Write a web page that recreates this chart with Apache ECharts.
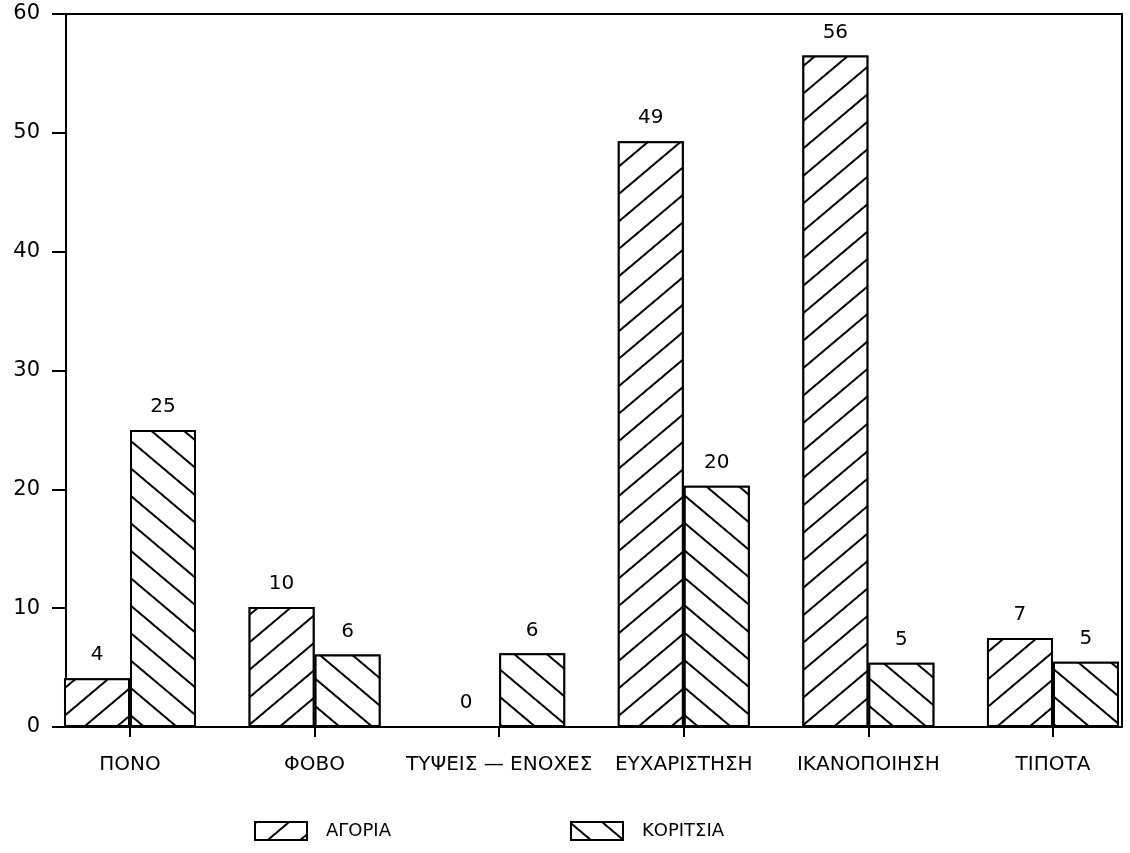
<!DOCTYPE html>
<html>
<head>
<meta charset="utf-8">
<script src="https://cdn.jsdelivr.net/npm/echarts@6/dist/echarts.min.js"></script>
<style>html,body{margin:0;padding:0;background:#fff;}#c{width:1130px;height:853px;}</style>
</head>
<body>
<div id="c"></div>
<script>
const categories = ['ΠΟΝΟ', 'ΦΟΒΟ', 'ΤΥΨΕΙΣ — ΕΝΟΧΕΣ', 'ΕΥΧΑΡΙΣΤΗΣΗ', 'ΙΚΑΝΟΠΟΙΗΣΗ', 'ΤΙΠΟΤΑ'];
const seriesNames = ['ΑΓΟΡΙΑ', 'ΚΟΡΙΤΣΙΑ'];
const boys = [4.1, 10.1, 0, 49.3, 56.5, 7.5];
const girls = [25.0, 6.1, 6.2, 20.3, 5.4, 5.5];
const boysLabels = [4, 10, 0, 49, 56, 7];
const girlsLabels = [25, 6, 6, 20, 5, 5];
const yTicks = [0, 10, 20, 30, 40, 50, 60];

const catPositions = categories.map((c, i) => i);
const font = 'DejaVu Sans';

function hatch(rot) {
  return {
    symbol: 'rect',
    symbolSize: 1,
    dashArrayX: [1, 0],
    dashArrayY: [2, 19],
    rotation: rot,
    color: '#000',
    backgroundColor: '#fff'
  };
}

const chart = echarts.init(document.getElementById('c'), null, {renderer: 'canvas'});
chart.setOption({
  animation: false,
  backgroundColor: '#fff',
  grid: {
    left: 66, right: 8, top: 14, bottom: 126,
    show: true, borderColor: '#000', borderWidth: 2, backgroundColor: 'transparent'
  },
  legend: {
    left: 249, top: 816,
    icon: 'rect',
    itemWidth: 52, itemHeight: 18, itemGap: 179,
    textStyle: {fontFamily: font, fontSize: 18, color: '#000', padding: [0, 0, 0, 14]},
    data: seriesNames
  },
  xAxis: {
    type: 'value',
    min: -0.3467,
    max: 5.374,
    axisLine: {show: true, onZero: false, lineStyle: {color: '#000', width: 2}},
    axisTick: {show: true, length: 10, customValues: catPositions, lineStyle: {color: '#000', width: 2}},
    axisLabel: {
      customValues: catPositions,
      formatter: v => categories[Math.round(v)] || '',
      fontFamily: font, fontSize: 20, color: '#000', margin: 28
    },
    splitLine: {show: false}
  },
  yAxis: {
    type: 'value',
    min: 0, max: 60, interval: 10,
    axisLine: {show: true, onZero: false, lineStyle: {color: '#000', width: 2}},
    axisTick: {show: true, length: 14, customValues: yTicks, lineStyle: {color: '#000', width: 2}},
    axisLabel: {customValues: yTicks, fontFamily: font, fontSize: 21, color: '#000', margin: 26},
    splitLine: {show: false}
  },
  series: [
    {
      name: seriesNames[0],
      type: 'bar',
      barWidth: 66,
      barGap: '0%',
      data: boys.map((v, i) => [i, v]),
      itemStyle: {color: '#fff', borderColor: '#000', borderWidth: 2, decal: hatch(-0.7)},
      label: {show: true, position: 'top', distance: 13, fontFamily: font, fontSize: 20, color: '#000',
        formatter: p => String(boysLabels[p.dataIndex])}
    },
    {
      name: seriesNames[1],
      type: 'bar',
      barWidth: 66,
      barGap: '0%',
      data: girls.map((v, i) => [i, v]),
      itemStyle: {color: '#fff', borderColor: '#000', borderWidth: 2, decal: hatch(0.7)},
      label: {show: true, position: 'top', distance: 13, fontFamily: font, fontSize: 20, color: '#000',
        formatter: p => String(girlsLabels[p.dataIndex])}
    }
  ]
});
</script>
</body>
</html>
